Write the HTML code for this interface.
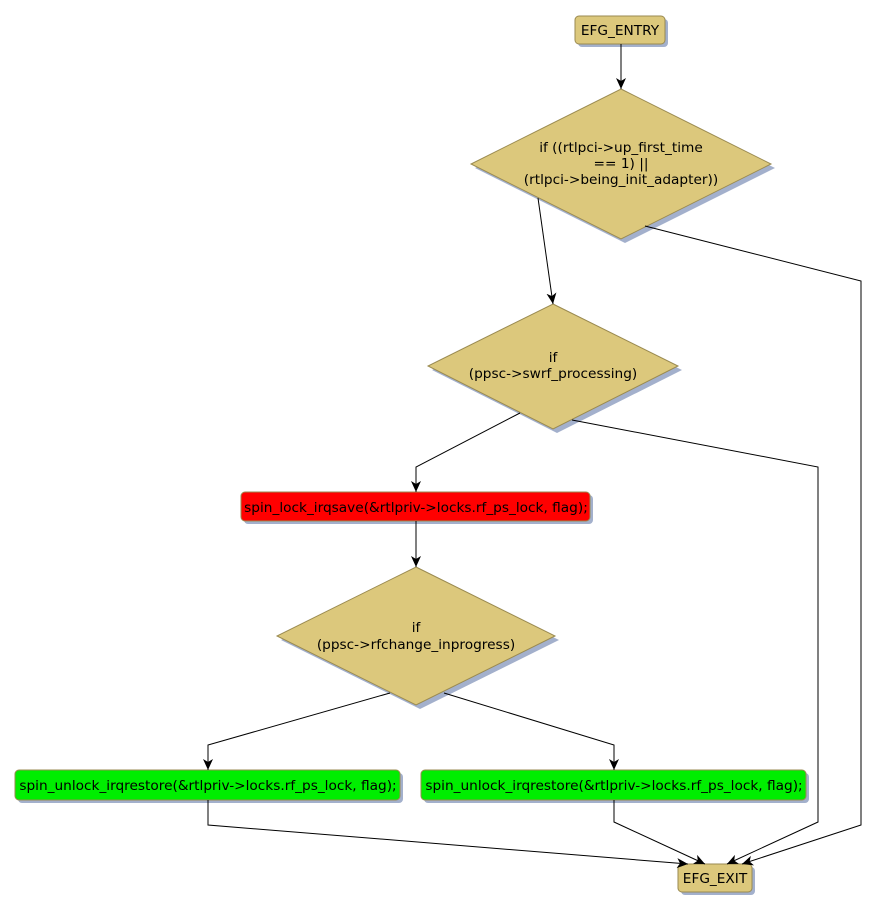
<!DOCTYPE html>
<html><head><style>body{margin:0;background:#fff}svg{display:block}text{font-family:"DejaVu Sans","Liberation Sans",sans-serif;font-size:13.7px;fill:#000}</style></head>
<body>
<svg width="877" height="913" xmlns="http://www.w3.org/2000/svg">
<defs><marker id="a" markerWidth="12" markerHeight="12" refX="11" refY="5" orient="auto" markerUnits="userSpaceOnUse"><path d="M0,0 L11,5 L0,10 L3,5 Z" fill="#000"/></marker></defs>
<g fill="#a3b0cc">
<rect x="578" y="19" width="90" height="28" rx="4"/>
<polygon points="625,93 775,168 625,243 475,168"/>
<polygon points="557,308 682,370 557,433 432,370"/>
<rect x="244" y="495" width="349" height="29" rx="4"/>
<polygon points="420,571 559,640 420,709 281,640"/>
<rect x="18" y="773" width="385" height="30" rx="4"/>
<rect x="424" y="773" width="385" height="30" rx="4"/>
<rect x="681" y="867" width="74" height="28" rx="4"/>
</g>
<g stroke="#9a8a50" stroke-width="1">
<rect x="575" y="16" width="90" height="28" rx="4" fill="#dcc87c"/>
<polygon points="621,89 771,164 621,239 471,164" fill="#dcc87c"/>
<polygon points="553,304 678,366 553,429 428,366" fill="#dcc87c"/>
<rect x="241" y="492" width="349" height="29" rx="4" fill="#ff0000"/>
<polygon points="416,567 555,636 416,705 277,636" fill="#dcc87c"/>
<rect x="15" y="770" width="385" height="30" rx="4" fill="#00ee00"/>
<rect x="421" y="770" width="385" height="30" rx="4" fill="#00ee00"/>
<rect x="678" y="864" width="74" height="28" rx="4" fill="#dcc87c"/>
</g>
<g fill="none" stroke="#000" stroke-width="1" marker-end="url(#a)">
<path d="M621,44 L621,89"/>
<path d="M538,198 L553,304"/>
<path d="M645,226 L861,281 L861,825 L742,864"/>
<path d="M520,413 L416,467 L416,492"/>
<path d="M572,420 L818,467 L818,822 L727,864"/>
<path d="M416,521 L416,567"/>
<path d="M390,693 L208,745 L208,770"/>
<path d="M444,693 L614,745 L614,770"/>
<path d="M208,800 L208,825 L688,864"/>
<path d="M614,800 L614,822 L705,864"/>
</g>
<g text-anchor="middle">
<text x="620" y="35">EFG_ENTRY</text>
<text x="621" y="152">if ((rtlpci-&gt;up_first_time</text>
<text x="621" y="168">== 1) ||</text>
<text x="621" y="184">(rtlpci-&gt;being_init_adapter))</text>
<text x="553" y="362">if</text>
<text x="553" y="378">(ppsc-&gt;swrf_processing)</text>
<text x="416" y="512">spin_lock_irqsave(&amp;rtlpriv-&gt;locks.rf_ps_lock, flag);</text>
<text x="416" y="632">if</text>
<text x="416" y="649">(ppsc-&gt;rfchange_inprogress)</text>
<text x="208" y="790">spin_unlock_irqrestore(&amp;rtlpriv-&gt;locks.rf_ps_lock, flag);</text>
<text x="614" y="790">spin_unlock_irqrestore(&amp;rtlpriv-&gt;locks.rf_ps_lock, flag);</text>
<text x="715" y="883">EFG_EXIT</text>
</g>
</svg>
</body></html>
